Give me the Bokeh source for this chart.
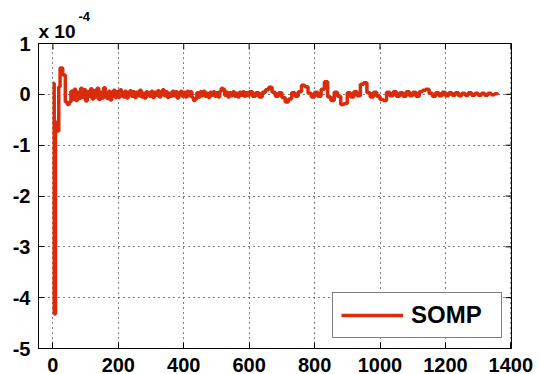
from bokeh.plotting import figure
from bokeh.models import Range1d, FixedTicker, Title, Legend, LegendItem
from bokeh.embed import file_html
from bokeh.resources import INLINE

# Residual error (units of 1e-4): first samples, then plateau values along the index
head_x = [0, 4, 8, 13, 18, 22, 30, 38, 44]
head_y = [0.22, -4.32, -0.55, -0.72, 0.15, 0.52, 0.38, -0.15, -0.2]

tail_x = list(range(50, 600, 5)) + list(range(600, 1370, 10))
tail_y = [
    # 50 - 195
    -0.15, 0.06, -0.10, 0.10, -0.12, 0.04, -0.08, 0.12, -0.06, 0.09,
    -0.13, 0.05, -0.04, 0.11, -0.09, 0.07, -0.05, 0.12, -0.10, 0.04,
    -0.07, 0.13, 0.02, -0.08, 0.06, -0.11, 0.03, 0.08, -0.06, 0.05,
    # 200 - 395
    -0.06, 0.09, 0.02, -0.05, 0.06, -0.07, 0.03, 0.07, -0.04, 0.05,
    -0.06, 0.04, -0.03, 0.08, -0.05, 0.02, -0.07, 0.05, 0.03, -0.04,
    0.06, -0.06, 0.04, -0.02, 0.07, -0.05, 0.03, 0.09, -0.03, 0.05,
    -0.06, 0.02, -0.04, 0.06, -0.03, 0.05, -0.07, 0.03, 0.06, -0.04,
    # 400 - 595
    0.04, -0.05, 0.06, -0.03, 0.05, -0.06, -0.12, -0.09, 0.03, -0.05,
    0.05, -0.03, 0.06, -0.04, 0.02, -0.06, 0.04, -0.02, 0.05, -0.04,
    0.03, -0.05, 0.06, 0.12, 0.10, -0.02, 0.04, -0.05, 0.03, -0.03,
    0.05, -0.04, 0.02, -0.05, 0.04, -0.02, 0.05, -0.04, 0.03, -0.03,
    # 600 - 1360
    0.05, -0.04, 0.03, -0.05, 0.04, 0.09, 0.14, 0.04, -0.04, 0.03,
    -0.06, -0.15, -0.09, 0.03, -0.04, 0.05, 0.18, 0.15, 0.02, -0.05,
    0.04, -0.04, 0.10, 0.25, -0.05, -0.12, 0.04, -0.04, -0.20, -0.18,
    0.03, -0.05, 0.05, -0.03, 0.20, 0.23, 0.03, -0.05, 0.04, -0.04,
    -0.10, -0.12, 0.04, -0.03, 0.05, -0.04, 0.03, -0.04, 0.05, -0.03,
    0.04, -0.04, 0.05, 0.08, 0.10, 0.02, -0.04, 0.03, -0.03, 0.04,
    -0.03, 0.03, -0.02, 0.03, -0.03, 0.02, -0.02, 0.03, -0.02, 0.02,
    -0.02, 0.02, -0.02, 0.02, -0.01, 0.01, 0.00,
]

xs = head_x + tail_x
ys = head_y + tail_y

x_ticks = [0, 200, 400, 600, 800, 1000, 1200, 1400]
y_ticks = [-5, -4, -3, -2, -1, 0, 1]
y_tick_text = {t: str(t) for t in y_ticks}

series_name = "SOMP"
scale_base = "x 10"
scale_exp = "-4"
line_color = "#da2c0a"
font = "Liberation Sans"

X0, X1 = -44, 1402
Y0, Y1 = -5, 1

p = figure(width=540, height=374, output_backend="svg", toolbar_location=None,
           x_range=Range1d(X0, X1), y_range=Range1d(Y0, Y1),
           min_border_left=38, min_border_right=29, min_border_top=43,
           min_border_bottom=26)
p.background_fill_color = "white"
p.border_fill_color = "white"
p.outline_line_color = "black"
p.outline_line_width = 1

r = p.step(xs, ys, mode="after", line_color=line_color, line_width=3.5)

for ax, ticks in ((p.xaxis[0], x_ticks), (p.yaxis[0], y_ticks)):
    ax.ticker = FixedTicker(ticks=ticks)
    ax.major_tick_in = 6
    ax.major_tick_out = 0
    ax.minor_tick_line_color = None
    ax.axis_line_color = "black"
    ax.major_tick_line_color = "black"
    ax.major_label_text_font = font
    ax.major_label_text_font_size = "20px"
    ax.major_label_text_font_style = "bold"
    ax.major_label_text_color = "black"
p.yaxis.major_label_overrides = y_tick_text
p.xaxis.major_label_standoff = 9
p.yaxis.major_label_standoff = 8

# inward ticks on the top and right edges of the box
tick_dy = 6 / 305 * (Y1 - Y0)
tick_dx = 6 / 473 * (X1 - X0)
p.segment(x0=x_ticks, x1=x_ticks, y0=[Y1] * len(x_ticks), y1=[Y1 - tick_dy] * len(x_ticks),
          line_color="black", line_width=1)
p.segment(x0=[X1] * len(y_ticks), x1=[X1 - tick_dx] * len(y_ticks), y0=y_ticks, y1=y_ticks,
          line_color="black", line_width=1)

for g in (p.xgrid[0], p.ygrid[0]):
    g.grid_line_color = "black"
    g.grid_line_dash = "1 4"
    g.grid_line_width = 1
p.xgrid.ticker = FixedTicker(ticks=x_ticks)
p.ygrid.ticker = FixedTicker(ticks=y_ticks)

# exponent note above the y axis: exponent on the outer row, base next to the frame
p.title.text = scale_exp
p.title.align = "left"
p.title.offset = 40
p.title.standoff = -6
p.title.text_font = font
p.title.text_font_size = "13px"
p.title.text_font_style = "bold"
p.title.text_color = "black"
p.add_layout(Title(text=scale_base, align="left", offset=0, standoff=3,
                   text_font=font, text_font_size="19px", text_font_style="bold",
                   text_color="black"), "above")

legend = Legend(items=[LegendItem(label=series_name, renderers=[r])],
                location=(294, 10), orientation="vertical",
                glyph_width=62, glyph_height=20, label_height=20, label_width=82,
                label_standoff=8, padding=8, spacing=0,
                label_text_font=font, label_text_font_size="24px",
                label_text_font_style="bold", label_text_color="black",
                border_line_color="black", border_line_width=1,
                background_fill_color="white", background_fill_alpha=1)
p.add_layout(legend, "center")

open("out.html", "w").write(file_html(p, INLINE))
